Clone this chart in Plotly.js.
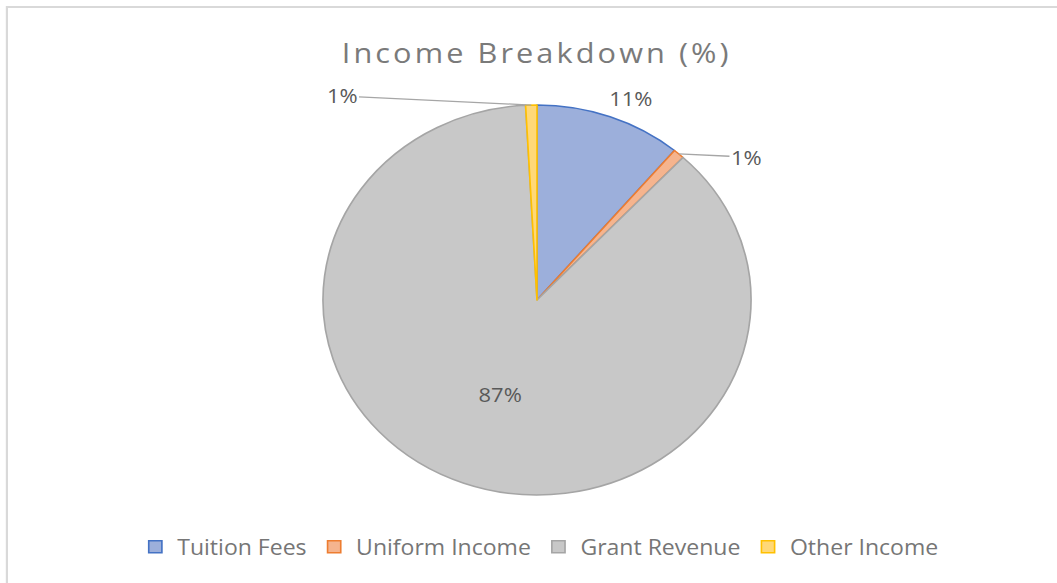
<!DOCTYPE html>
<html><head><meta charset="utf-8">
<script src="https://cdn.plot.ly/plotly-3.0.1.min.js"></script>
<style>
html,body{margin:0;padding:0;overflow:hidden;background:#fff;width:1057px;height:583px}
#chart{width:963px;height:583px;transform:scaleX(1.09761);transform-origin:0 0}
#chart .gtitle{letter-spacing:2.8px}
</style></head><body><div id="chart"></div>
<script>
const categories = ['Tuition Fees', 'Uniform Income', 'Grant Revenue', 'Other Income'];
const shares = [11.1, 0.85, 87.2, 0.85];
const fillColors = ['#9cafdb', '#f5b48e', '#c8c8c8', '#ffd878'];
const lineColors = ['#4472c4', '#ed7d31', '#a5a5a5', '#ffc000'];

const W = 963, H = 583;
const cx = 489.25, cy = 300, R = 195;
const px = x => x / W, py = y => 1 - y / H;

const total = shares.reduce((a, b) => a + b, 0);
const pctText = shares.map(v => Math.round(v / total * 100) + '%');
let cum = 0;
const midAngle = shares.map(v => { const m = (cum + v / 2) / total * 2 * Math.PI; cum += v; return m; });
const edgePt = i => ({ x: cx + R * Math.sin(midAngle[i]), y: cy - R * Math.cos(midAngle[i]) });

// label placement (pixel positions in the unscaled drawing), leader flag
const labelPos = [
  { x: 574.0, y: 99, leader: false },
  { x: 680.1, y: 157, leader: true },
  { x: 455.3, y: 394, leader: false },
  { x: 311.6, y: 96, leader: true }
];

const annotations = labelPos.map((p, i) => {
  const base = {
    text: pctText[i], xref: 'paper', yref: 'paper',
    font: { family: 'Open Sans', size: 20, color: '#595959' }
  };
  if (p.leader) {
    const e = edgePt(i);
    return Object.assign(base, {
      x: px(e.x), y: py(e.y), showarrow: true, arrowhead: 0, arrowwidth: 1.3,
      arrowcolor: '#a6a6a6', standoff: 0, ax: p.x - e.x, ay: p.y - e.y
    });
  }
  return Object.assign(base, { x: px(p.x), y: py(p.y), showarrow: false, xanchor: 'center', yanchor: 'middle' });
});

const trace = {
  type: 'pie',
  labels: categories,
  values: shares,
  sort: false,
  direction: 'clockwise',
  rotation: 0,
  textinfo: 'none',
  hoverinfo: 'label+percent',
  marker: { colors: fillColors, line: { color: lineColors, width: 1.5 } },
  domain: { x: [px(cx - R), px(cx + R)], y: [py(cy + R), py(cy - R)] },
  showlegend: true
};

const layout = {
  width: W, height: H,
  margin: { l: 0, r: 0, t: 0, b: 0 },
  paper_bgcolor: '#ffffff',
  title: {
    text: 'Income Breakdown (%)',
    x: px(489), xanchor: 'center', y: py(53), yanchor: 'middle',
    font: { family: 'Open Sans', size: 28, color: '#7a7a7a' }
  },
  showlegend: true,
  legend: {
    orientation: 'h', x: px(491), xanchor: 'center', y: py(547), yanchor: 'middle',
    font: { family: 'Open Sans', size: 21, color: '#767676' },
    traceorder: 'normal', itemclick: false, itemdoubleclick: false
  },
  annotations: annotations,
  shapes: [{
    type: 'rect', xref: 'paper', yref: 'paper',
    x0: px(6.3), x1: 1.05, y0: -0.05, y1: py(7),
    line: { color: '#d9d9d9', width: 2 }, fillcolor: 'rgba(0,0,0,0)'
  }]
};

Plotly.newPlot('chart', [trace], layout, { displayModeBar: false, staticPlot: true });
</script></body></html>
